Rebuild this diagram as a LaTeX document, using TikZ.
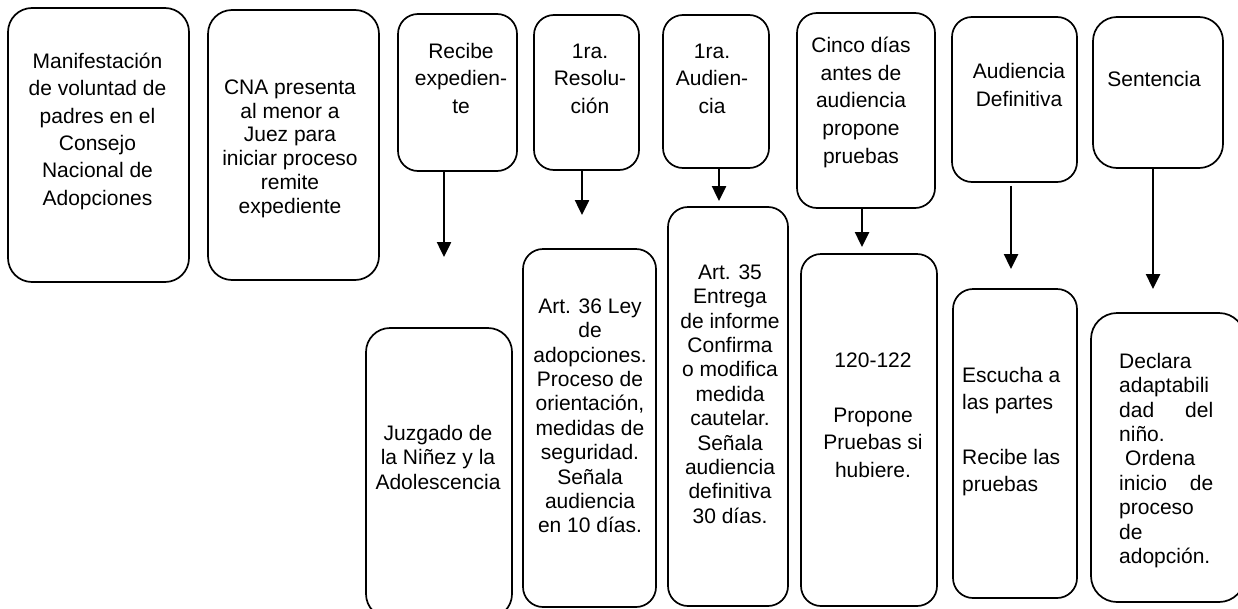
\documentclass[tikz,border=0pt]{standalone}
\usepackage{fontspec}
\setmainfont{Liberation Sans}
\usetikzlibrary{arrows.meta}
\newcommand\fstrut{\rule{0pt}{18pt}}
\begin{document}
\begin{tikzpicture}[x=1pt,y=-1pt,
  box/.style={draw,line width=1.7pt,rounded corners=20pt,inner sep=0pt},
  txt/.style={anchor=north,inner sep=0pt,align=center,font=\fontsize{21}{#1}\selectfont},
  txt/.default=24.4,
  ltxt/.style={anchor=north west,inner sep=0pt,align=left,font=\fontsize{21}{#1}\selectfont},
  ltxt/.default=24.4,
  arr/.style={line width=2.5pt,-{Triangle[length=15pt,width=14pt]}}]
\useasboundingbox (0,0) rectangle (1238,608);
\clip (0,0) rectangle (1238,608);

% upper boxes
\node[box,rounded corners=24pt,minimum width=181pt,minimum height=274pt] (b1) at (98.5,145) {};
\node[box,rounded corners=24pt,minimum width=171pt,minimum height=270pt] (b2) at (293.5,145) {};
\node[box,minimum width=119pt,minimum height=157pt] (b3) at (457.5,92.5) {};
\node[box,minimum width=105pt,minimum height=155pt] (b4) at (586.5,92.5) {};
\node[box,minimum width=106pt,minimum height=153pt] (b5) at (716,91.5) {};
\node[box,minimum width=138pt,minimum height=195pt] (b6) at (866,110.5) {};
\node[box,minimum width=125pt,minimum height=165pt] (b7) at (1014.5,99.5) {};
\node[box,rounded corners=24pt,minimum width=130pt,minimum height=151pt] (b8) at (1158,92.5) {};

% lower boxes
\node[box,rounded corners=24pt,minimum width=146pt,minimum height=290pt] (l3) at (439,473) {};
\node[box,minimum width=133pt,minimum height=358pt] (l4) at (589.5,428) {};
\node[box,minimum width=120pt,minimum height=399pt] (l5) at (728,406.5) {};
\node[box,minimum width=136pt,minimum height=352pt] (l6) at (869,430) {};
\node[box,minimum width=124pt,minimum height=309pt] (l7) at (1015,443.5) {};
\node[box,rounded corners=26pt,minimum width=154pt,minimum height=289pt] (l8) at (1168,457.5) {};

% arrows
\coordinate (e3) at (444,257);
\coordinate (e4) at (582,215);
\coordinate (e5) at (719,201);
\coordinate (e6) at (862,247);
\coordinate (e7) at (1011,269);
\coordinate (e8) at (1153,289);
\draw[arr] (b3.south -| e3) -- (e3);
\draw[arr] (b4.south -| e4) -- (e4);
\draw[arr] (b5.south -| e5) -- (e5);
\draw[arr] (b6.south -| e6) -- (e6);
\draw[arr] ([yshift=-3pt]b7.south -| e7) -- (e7);
\draw[arr] (b8.south -| e8) -- (e8);

% texts
\node[txt=27.4] (t1) at (97.5,50) {\fstrut Manifestación\\de voluntad de\\padres en el\\Consejo\\Nacional de\\Adopciones};
\node[txt=23.8] (t2) at (290,76) {\fstrut CNA presenta\\al menor a\\Juez para\\iniciar proceso\\remite\\expediente};
\node[txt=27.5] (t3) at (461,40) {\fstrut Recibe\\expedien-\\te};
\node[txt=27.5] (t4) at (590,40) {\fstrut 1ra.\\Resolu-\\ción};
\node[txt=27.5] (t5) at (712,40) {\fstrut 1ra.\\Audien-\\cia};
\node[txt=27.8] (t6) at (861,34) {\fstrut Cinco días\\antes de\\audiencia\\propone\\pruebas};
\node[txt=28] (t7) at (1019,60) {\fstrut Audiencia\\Definitiva};
\node[txt] (t8) at (1154,68) {\fstrut Sentencia};

\node[txt=24.5] (u3) at (438,422) {\fstrut Juzgado de\\la Niñez y la\\Adolescencia};
\node[txt=24.4] (u4) at (590,295) {\fstrut Art. 36 Ley\\de\\adopciones.\\Proceso de\\orientación,\\medidas de\\seguridad.\\Señala\\audiencia\\en 10 días.};
\node[txt=24.4] (u5) at (730,261) {\fstrut Art. 35\\Entrega\\de informe\\Confirma\\o modifica\\medida\\cautelar.\\Señala\\audiencia\\definitiva\\30 días.};
\node[txt=27.5] (u6) at (873,349) {\fstrut 120-122\\\mbox{}\\Propone\\Pruebas si\\hubiere.};
\node[ltxt=27.4] (u7) at (962,364) {\fstrut Escucha a\\las partes\\\mbox{}\\Recibe las\\pruebas};
\node[ltxt=24.4] (u8) at (1119,350) {\fstrut Declara\\adaptabili\\\hbox to 94pt{dad\hfill del}\\niño.\\\hspace*{6pt}Ordena\\\hbox to 94pt{inicio\hfill de}\\proceso\\de\\adopción.};
\end{tikzpicture}
\end{document}
